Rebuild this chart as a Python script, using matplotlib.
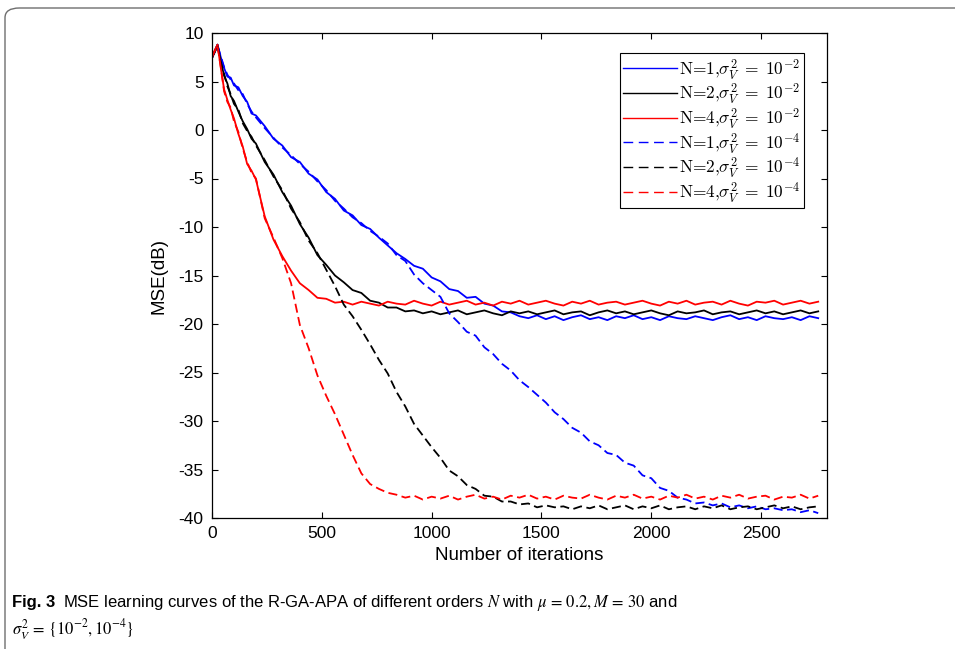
import matplotlib
matplotlib.use('Agg')
import matplotlib.pyplot as plt
from matplotlib.font_manager import FontProperties
from matplotlib.patches import FancyBboxPatch

plt.rcParams['font.family'] = ['Liberation Sans', 'DejaVu Sans']
plt.rcParams['axes.unicode_minus'] = False

# iteration grid the curves were read at
iters = [0, 12, 25, 40, 55, 70, 85, 100, 120, 140, 160, 180, 200] + list(range(240, 2761, 40))

# MSE (dB), N=1, sigma_V^2 = 1e-2
mse_n1_hi = [7.4, 8.1, 8.8, 7.5, 6.4, 5.5, 5.4, 4.6, 4.4, 3.5, 2.9, 1.7, 1.5,
             0.4, -0.9, -1.6, -2.8, -3.3, -4.5, -5.1, -6.4, -7.1, -8.3,
             -8.8, -9.8, -10.2, -11.1, -11.9, -12.7, -13.3, -14.0, -14.3, -15.2,
             -15.6, -16.4, -16.6, -17.3, -17.2, -17.9, -18.1, -18.7, -18.8, -19.2,
             -19.4, -19.1, -19.5, -19.2, -19.6, -19.3, -19.1, -19.5, -19.3, -19.6,
             -19.2, -19.4, -19.1, -19.5, -19.3, -19.6, -19.2, -19.4, -19.5, -19.2,
             -19.4, -19.6, -19.3, -19.1, -19.5, -19.3, -19.6, -19.2, -19.4, -19.5,
             -19.3, -19.6, -19.2, -19.4]
# N=2, sigma_V^2 = 1e-2
mse_n2_hi = [7.4, 8.1, 8.8, 7.1, 5.6, 4.8, 3.5, 3.0, 1.9, 0.9, 0.1, -0.9, -1.4,
             -3.3, -4.6, -6.4, -7.8, -9.7, -11.1, -12.9, -13.9, -15.0, -15.7,
             -16.5, -16.8, -17.6, -17.8, -18.3, -18.3, -18.7, -18.6, -18.9, -18.7,
             -19.0, -18.8, -18.6, -19.0, -18.8, -18.6, -18.9, -19.1, -18.7, -18.9,
             -18.7, -19.0, -18.8, -18.6, -19.0, -18.8, -18.7, -19.1, -18.8, -18.6,
             -18.9, -18.7, -19.0, -18.8, -18.6, -18.9, -19.1, -18.7, -18.9, -18.8,
             -18.6, -19.0, -18.8, -18.7, -19.0, -18.8, -18.6, -18.9, -18.7, -19.0,
             -18.8, -18.6, -18.9, -18.7]
# N=4, sigma_V^2 = 1e-2
mse_n4_hi = [7.4, 8.2, 8.8, 6.4, 4.2, 3.1, 2.1, 1.2, -0.4, -1.7, -3.5, -4.2, -5.1,
             -8.9, -11.3, -13.0, -14.5, -15.8, -16.5, -17.3, -17.4, -17.8, -17.7,
             -18.0, -17.7, -17.9, -18.1, -17.7, -17.9, -18.0, -17.6, -17.9, -18.1,
             -17.7, -18.0, -17.8, -17.6, -18.0, -17.8, -18.1, -17.7, -17.9, -17.6,
             -18.0, -17.8, -17.6, -17.9, -18.1, -17.7, -17.9, -17.6, -18.0, -17.8,
             -17.7, -18.0, -17.8, -17.6, -17.9, -18.1, -17.7, -17.9, -17.6, -18.0,
             -17.8, -17.7, -18.0, -17.6, -17.9, -18.1, -17.7, -17.8, -17.6, -18.0,
             -17.8, -17.6, -17.9, -17.7]
# N=1, sigma_V^2 = 1e-4
mse_n1_lo = [7.5, 8.0, 8.7, 7.6, 6.5, 5.7, 5.2, 4.8, 4.1, 3.7, 2.7, 1.9, 1.3,
             0.2, -0.8, -1.8, -2.6, -3.5, -4.3, -5.3, -6.2, -7.3, -8.1,
             -9.0, -9.6, -10.4, -11.0, -11.7, -12.9, -13.5, -14.9, -15.8, -16.5,
             -17.2, -18.9, -19.8, -20.8, -21.2, -22.4, -23.1, -24.1, -24.8, -25.8,
             -26.5, -27.3, -28.1, -29.1, -29.8, -30.7, -31.2, -32.1, -32.5, -33.3,
             -33.5, -34.3, -34.6, -35.6, -35.9, -36.9, -37.2, -37.9, -38.1, -38.5,
             -38.4, -38.7, -38.5, -38.9, -38.7, -39.0, -38.8, -39.1, -39.0, -39.2,
             -39.1, -39.4, -39.2, -39.5]
# N=2, sigma_V^2 = 1e-4
mse_n2_lo = [7.5, 8.0, 8.7, 7.0, 5.8, 4.5, 3.7, 2.7, 2.1, 0.7, -0.1, -0.7, -1.6,
             -3.1, -4.8, -6.2, -8.1, -9.5, -11.4, -12.7, -14.4, -16.1, -18.0,
             -19.2, -20.6, -22.1, -23.7, -25.1, -27.0, -28.5, -30.3, -31.5, -32.7,
             -33.8, -35.1, -35.7, -36.6, -37.0, -37.7, -37.8, -38.3, -38.3, -38.6,
             -38.5, -38.9, -38.7, -38.9, -38.8, -39.1, -38.8, -39.0, -38.7, -39.1,
             -38.9, -38.7, -39.1, -38.8, -39.0, -38.7, -39.1, -38.9, -38.8, -39.1,
             -38.8, -39.0, -38.7, -39.1, -38.9, -38.8, -39.1, -38.9, -38.7, -39.0,
             -38.8, -39.1, -38.9, -38.8]
# N=4, sigma_V^2 = 1e-4
mse_n4_lo = [7.5, 8.1, 8.7, 6.5, 4.0, 2.9, 2.3, 0.9, -0.2, -1.9, -3.3, -4.4, -5.0,
             -9.1, -11.1, -13.2, -15.8, -20.1, -22.5, -25.3, -27.4, -29.3, -31.4,
             -33.5, -35.4, -36.5, -37.0, -37.4, -37.6, -37.9, -37.7, -38.1, -37.8,
             -38.0, -37.7, -38.1, -37.8, -37.6, -38.0, -37.8, -38.1, -37.7, -37.9,
             -37.6, -38.0, -37.8, -38.1, -37.7, -37.9, -38.0, -37.6, -37.9, -38.1,
             -37.7, -37.9, -37.6, -38.0, -37.8, -38.1, -37.7, -37.9, -37.6, -38.0,
             -37.8, -38.1, -37.7, -37.9, -37.6, -38.0, -37.8, -37.7, -38.1, -37.8,
             -37.9, -37.6, -38.0, -37.7]

curves = [mse_n1_hi, mse_n2_hi, mse_n4_hi, mse_n1_lo, mse_n2_lo, mse_n4_lo]
labels = [r'N=1,$\sigma_V^2\;=\;10^{-2}$', r'N=2,$\sigma_V^2\;=\;10^{-2}$',
          r'N=4,$\sigma_V^2\;=\;10^{-2}$', r'N=1,$\sigma_V^2\;=\;10^{-4}$',
          r'N=2,$\sigma_V^2\;=\;10^{-4}$', r'N=4,$\sigma_V^2\;=\;10^{-4}$']
colors = ['#0000ff', '#000000', '#ff0000', '#0000ff', '#000000', '#ff0000']
styles = ['-', '-', '-', '--', '--', '--']

fig = plt.figure(figsize=(9.55, 6.49), dpi=100)

# rounded frame around figure + caption
frame = FancyBboxPatch((5 / 955, -0.05), 1.2, 1.05 - 8 / 649,
                       boxstyle='round,pad=0,rounding_size=0.015',
                       transform=fig.transFigure, fill=False,
                       edgecolor='#6e6e6e', linewidth=1.0)
fig.patches.append(frame)

ax = fig.add_axes([212 / 955, 1 - 518 / 649, 615 / 955, 485 / 649])

for y, lab, c, ls in zip(curves, labels, colors, styles):
    line, = ax.plot(iters, y, color=c, linestyle=ls, linewidth=1.3, label=lab)
    if ls == '--':
        line.set_dashes((5, 2.5))

ax.set_xlim(0, 2800)
ax.set_ylim(-40, 10)
ax.set_xticks([0, 500, 1000, 1500, 2000, 2500])
ax.set_yticks(range(-40, 11, 5))
ax.tick_params(direction='in', top=True, right=True, length=4, width=0.8,
               labelsize=12.5, pad=6)
for sp in ax.spines.values():
    sp.set_linewidth(0.9)
ax.set_xlabel('Number of iterations', fontsize=13.5, labelpad=4)
ax.set_ylabel('MSE(dB)', fontsize=13.5, labelpad=8)

leg_font = FontProperties(family='cmr10', size=12.5, math_fontfamily='cm')
leg = ax.legend(loc='upper right', bbox_to_anchor=(0.962, 0.958), prop=leg_font,
                fancybox=False, framealpha=1, edgecolor='black',
                handlelength=3.1, handletextpad=0.1, labelspacing=0.0,
                borderpad=0.2, borderaxespad=0)
leg.get_frame().set_linewidth(0.8)
for h in leg.get_lines():
    h.set_linewidth(1.0)
    if h.get_linestyle() == '--':
        h.set_dashes((7, 4))

# caption
cap_y1 = 1 - 603 / 649
cap_y2 = 1 - 630 / 649
cap_x = 12 / 955
cap_font = ['Liberation Sans Narrow', 'Liberation Sans', 'DejaVu Sans']
t_bold = fig.text(cap_x, cap_y1, 'Fig. 3', fontsize=12, fontweight='bold',
                  family=cap_font, va='center')
renderer = fig.canvas.get_renderer()
bb = t_bold.get_window_extent(renderer)
fig.text(bb.x1 / fig.bbox.width + 8 / 955, cap_y1,
         r'MSE learning curves of the R-GA-APA of different orders $N$ with $\mu\,=\,0.2, M\,=\,30$ and',
         fontsize=12, family=cap_font, va='center', math_fontfamily='stix')
fig.text(cap_x, cap_y2, r'$\sigma_V^2\,=\,\{10^{-2}, 10^{-4}\}$',
         fontsize=12, family=cap_font, va='center', math_fontfamily='stix')

fig.savefig('out.png', dpi=100)
